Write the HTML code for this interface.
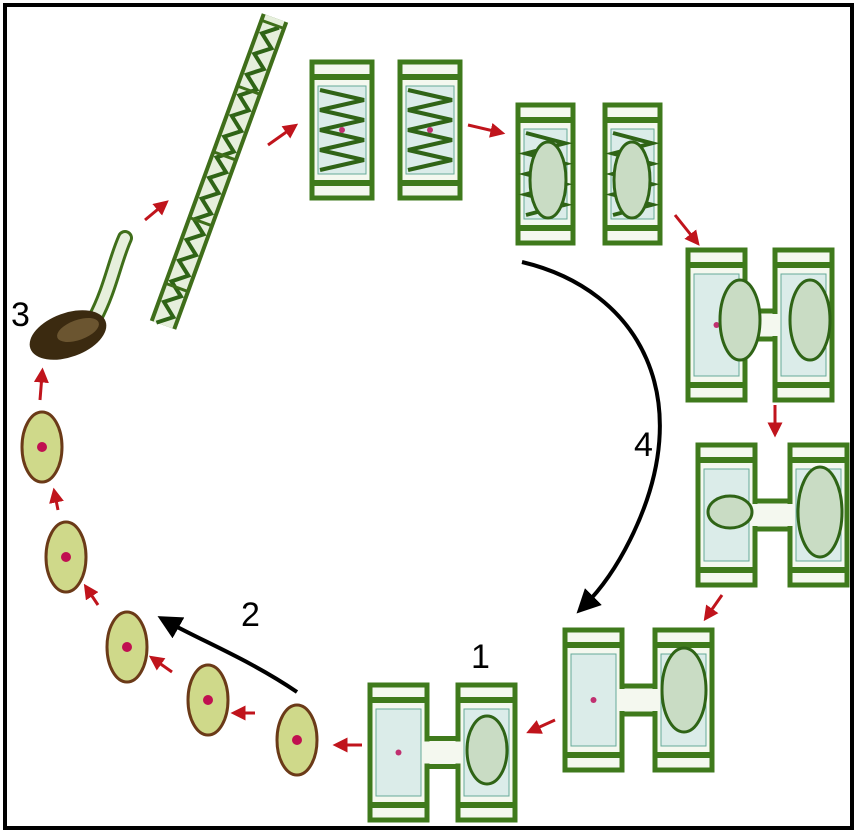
<!DOCTYPE html>
<html><head><meta charset="utf-8"><style>
html,body{margin:0;padding:0;background:#fff}
svg{display:block}
text{font-family:"Liberation Sans",sans-serif}
</style></head><body>
<svg id="s" width="857" height="833" viewBox="0 0 857 833">
<rect x="5" y="5" width="847" height="823" fill="#fff" stroke="#000" stroke-width="4"/>
<defs>
<marker id="bh" viewBox="0 0 10 10" refX="5" refY="5" markerWidth="6" markerHeight="6" orient="auto"><path d="M0,0L10,5L0,10z" fill="#000"/></marker>
<marker id="rh" viewBox="0 0 10 10" refX="5" refY="5" markerWidth="5" markerHeight="5" orient="auto"><path d="M0,0L10,5L0,10z" fill="#c0141c"/></marker>
</defs>
<g id="cells"></g>
<g id="fil">
<path d="M163,325 L275,18" stroke="#3f6e1a" stroke-width="28" fill="none"/>
<path d="M163,325 L275,18" stroke="#e6efdc" stroke-width="20" fill="none"/>
</g>
<g>
<path d="M95,318 C110,290 115,260 125,238" stroke="#3f6e1a" stroke-width="16" fill="none" stroke-linecap="round"/>
<path d="M95,318 C110,290 115,260 125,238" stroke="#e6efdc" stroke-width="10" fill="none" stroke-linecap="round"/>
<ellipse cx="68" cy="335" rx="40" ry="22" transform="rotate(-20 68 335)" fill="#3b2a10"/>
<ellipse cx="78" cy="330" rx="22" ry="10" transform="rotate(-20 78 330)" fill="#6b5530"/>
</g>
<g id="zy"></g>
<g id="ra"></g>
<path d="M522,262 C640,290 700,400 630,540 C615,570 600,590 585,605" stroke="#000" stroke-width="4" fill="none" marker-end="url(#bh)"/>
<path d="M297,692 C250,660 200,640 168,622" stroke="#000" stroke-width="4" fill="none" marker-end="url(#bh)"/>
<text x="471" y="668" font-size="34">1</text>
<text x="241" y="626" font-size="34">2</text>
<text x="11" y="326" font-size="34">3</text>
<text x="634" y="456" font-size="34">4</text>
</svg>
<script>
const NS="http://www.w3.org/2000/svg";
function mk(p,t,a){const e=document.createElementNS(NS,t);for(const k in a)e.setAttribute(k,a[k]);p.appendChild(e);return e;}
// filament zigzag
(function(){const f=document.getElementById('fil');const x0=163,y0=325,x1=275,y1=18;
const L=Math.hypot(x1-x0,y1-y0),ux=(x1-x0)/L,uy=(y1-y0)/L,nx=-uy,ny=ux;let d="";
for(let s=0,i=0;s<=L;s+=11,i++){const o=(i%2?7:-7);const x=x0+ux*s+nx*o,y=y0+uy*s+ny*o;d+=(i?" L":"M")+x.toFixed(1)+","+y.toFixed(1);}
mk(f,'path',{d:d,stroke:"#2f6416","stroke-width":4,fill:"none"});
for(let s=40;s<L;s+=70){const x=x0+ux*s,y=y0+uy*s;mk(f,'line',{x1:x-nx*11,y1:y-ny*11,x2:x+nx*11,y2:y+ny*11,stroke:"#3f6e1a","stroke-width":3});}
})();
const cells=document.getElementById('cells');
const G="#3f7a1c";
function cell(x,y,w,h,zig){
  const g=mk(cells,'g',{});
  
  
  mk(g,'rect',{x:x,y:y,width:w,height:h,fill:"#f4f8ef",stroke:G,"stroke-width":5});
  mk(g,'rect',{x:x,y:y+12,width:w,height:6,fill:G});
  mk(g,'rect',{x:x,y:y+h-18,width:w,height:6,fill:G});
  mk(g,'rect',{x:x+6,y:y+24,width:w-12,height:h-48,fill:"#dbece9",stroke:"#6a9","stroke-width":1});
  if(zig){let d="M"+(x+8)+","+(y+h-28);for(let i=0;i<4;i++){d+=" L"+(x+w-8)+","+(y+h-28-(i*2+1)*(h-56)/8)+" L"+(x+8)+","+(y+h-28-(i*2+2)*(h-56)/8);}mk(g,'path',{d:d,stroke:"#2f6416","stroke-width":4,fill:"none"});}
  mk(g,'circle',{cx:x+w/2,cy:y+h/2,r:3,fill:"#c03070"});
}
function pair(x1,x2,y,w,h,tube,zig){
  if(tube){const g=mk(cells,'g',{});
    
    
    mk(g,'rect',{x:x1+w-3,y:y+h/2-14,width:x2-x1-w+6,height:28,fill:"#f4f8ef",stroke:G,"stroke-width":5});}
  cell(x1,y,w,h,zig);cell(x2,y,w,h,zig);
  if(tube){mk(cells,'rect',{x:x1+w-3,y:y+h/2-11,width:x2-x1-w+6,height:22,fill:"#f4f8ef"});}
}
pair(312,400,62,60,136,false,true);
pair(518,605,105,55,138,false,true);
pair(688,775,250,57,150,true,false);
pair(698,790,445,57,140,true,false);
pair(565,655,630,57,140,true,false);
pair(370,458,685,57,135,true,false);
[[487,750,20,34],[684,690,22,42],[740,320,20,40],[810,320,20,40],[730,512,22,16],[820,512,22,45],[548,180,18,38],[632,180,18,38]].forEach(z=>{
 const e=mk(cells,'ellipse',{cx:z[0],cy:z[1],rx:z[2],ry:z[3],fill:"#c9dcc4",stroke:"#2f6416","stroke-width":3});
 
 
});
const zy=document.getElementById('zy');
[[42,447],[66,557],[127,647],[208,700],[297,740]].forEach(p=>{
 const e=mk(zy,'ellipse',{cx:p[0],cy:p[1],rx:20,ry:35,fill:"#cfd98a",stroke:"#6b3a18","stroke-width":3});
 
 
 mk(zy,'circle',{cx:p[0],cy:p[1],r:5,fill:"#c01050"});
});
const ra=document.getElementById('ra');
[[362,745,340,745],[255,713,238,713],[172,672,155,660],[98,605,88,590],[58,510,55,495],[40,400,42,375],[145,220,163,205],[268,145,292,128],[468,125,498,132],[675,215,695,240],[775,405,775,430],[722,595,708,615],[555,720,533,730]].forEach(a=>{
 const l=mk(ra,'line',{x1:a[0],y1:a[1],x2:a[2],y2:a[3],stroke:"#c0141c","stroke-width":3,"marker-end":"url(#rh)"});
 
 
});
</script>
</body></html>
